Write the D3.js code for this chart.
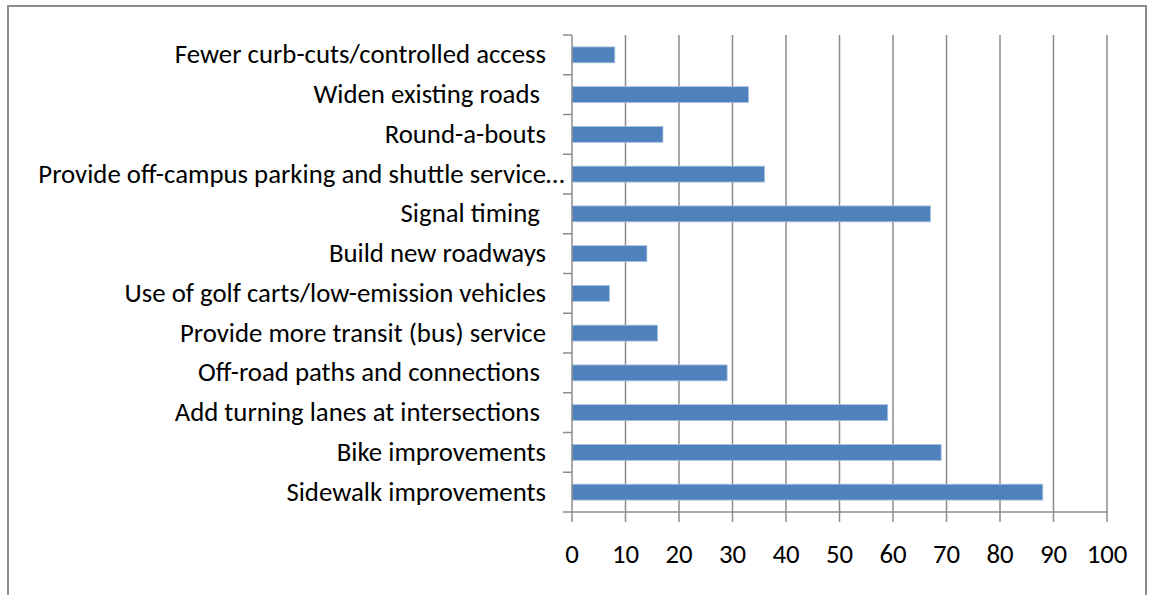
<!DOCTYPE html>
<html><head><meta charset="utf-8">
<script src="https://cdn.jsdelivr.net/npm/d3@7"></script>
<style>
html,body{margin:0;padding:0;background:#fff;}
svg text{white-space:pre;}
</style></head>
<body><svg id="c" width="1154" height="595"></svg>
<script>
const categories = [
  "Fewer curb-cuts/controlled access",
  "Widen existing roads ",
  "Round-a-bouts",
  "Provide off-campus parking and shuttle service…",
  "Signal timing ",
  "Build new roadways",
  "Use of golf carts/low-emission vehicles",
  "Provide more transit (bus) service",
  "Off-road paths and connections ",
  "Add turning lanes at intersections ",
  "Bike improvements",
  "Sidewalk improvements"
];
const values = [8, 33, 17, 36, 67, 14, 7, 16, 29, 59, 69, 88];
const xTicks = [0,10,20,30,40,50,60,70,80,90,100];

(function(){
const svg = d3.select("#c");
const font = "Carlito, 'Liberation Sans Narrow', 'Open Sans', sans-serif";
svg.append("rect").attr("x",8).attr("y",6).attr("width",1138).attr("height",600)
  .attr("fill","none").attr("stroke","#8c8c8c").attr("stroke-width",2);

const pL=572, pR=1107, pT=35, pB=512;
const x = d3.scaleLinear().domain([0,100]).range([pL,pR]);
const y = d3.scaleBand().domain(categories).range([pT,pB]).paddingInner(0.6).paddingOuter(0.3);

svg.append("g").selectAll("line").data(xTicks.slice(1)).join("line")
  .attr("x1",d=>x(d)).attr("x2",d=>x(d)).attr("y1",pT).attr("y2",pB)
  .attr("stroke","#8c8c8c").attr("stroke-width",1.5);

svg.append("g").selectAll("rect").data(values).join("rect")
  .attr("x",x(0)).attr("y",(d,i)=>y(categories[i]))
  .attr("width",d=>x(d)-x(0)).attr("height",y.bandwidth())
  .attr("fill","#4f81bd").attr("stroke","#a9c1e0").attr("stroke-width",0.8);

svg.append("line").attr("x1",pL).attr("x2",pL).attr("y1",pT).attr("y2",pB)
  .attr("stroke","#8c8c8c").attr("stroke-width",1.5);
const step = (pB-pT)/categories.length;
svg.append("g").selectAll("line").data(d3.range(categories.length+1)).join("line")
  .attr("x1",pL-9).attr("x2",pL).attr("y1",i=>pT+i*step).attr("y2",i=>pT+i*step)
  .attr("stroke","#8c8c8c").attr("stroke-width",1.5);

svg.append("line").attr("x1",pL).attr("x2",pR).attr("y1",pB).attr("y2",pB)
  .attr("stroke","#8c8c8c").attr("stroke-width",1.5);
svg.append("g").selectAll("line").data(xTicks).join("line")
  .attr("x1",d=>x(d)).attr("x2",d=>x(d)).attr("y1",pB).attr("y2",pB+10)
  .attr("stroke","#8c8c8c").attr("stroke-width",1.5);
svg.append("g").selectAll("text").data(xTicks).join("text")
  .attr("x",d=>x(d)).attr("y",563).attr("text-anchor","middle")
  .style("font-family",font).style("font-size","26.8px").attr("fill","#000")
  .text(d=>d);

const labels = svg.append("g").selectAll("text").data(categories).join("text")
  .attr("x",546).attr("y",d=>y(d)+y.bandwidth()/2+8.5).attr("text-anchor","end")
  .style("font-family",font).style("font-size","26.8px").attr("fill","#000")
  .text(d=>d);
// truncated labels: the ellipsis overhangs the label column
labels.each(function(d){
  if (d.endsWith("…")) {
    const t = d3.select(this);
    const full = this.getComputedTextLength();
    t.text(d.slice(0,-1));
    const base = this.getComputedTextLength();
    t.text(d).attr("x", 546 + (full-base));
  }
});
})();
</script></body></html>
